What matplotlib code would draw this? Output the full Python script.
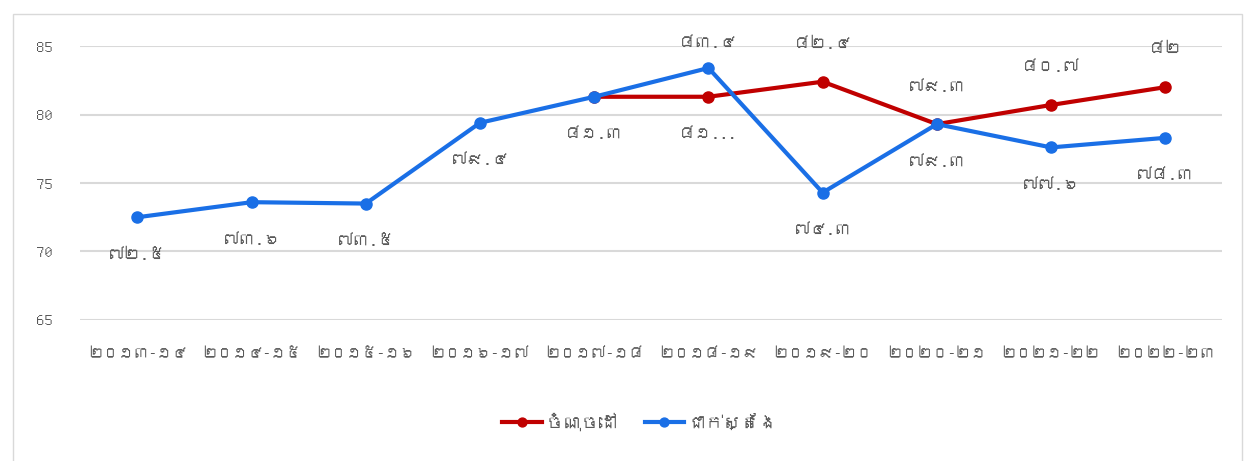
import matplotlib
matplotlib.use("Agg")
import matplotlib.pyplot as plt
from matplotlib import font_manager
from matplotlib.ft2font import FT2Font

# categories and values
years = ["២០១៣-១៤", "២០១៤-១៥", "២០១៥-១៦", "២០១៦-១៧", "២០១៧-១៨",
         "២០១៨-១៩", "២០១៩-២០", "២០២០-២១", "២០២១-២២", "២០២២-២៣"]
actual = [72.5, 73.6, 73.5, 79.4, 81.3, 83.4, 74.3, 79.3, 77.6, 78.3]
actual_labels = ["៧២.៥", "៧៣.៦", "៧៣.៥", "៧៩.៤", "៨១.៣", "៨៣.៤", "៧៤.៣", "៧៩.៣", "៧៧.៦", "៧៨.៣"]
target = [None, None, None, None, 81.3, 81.3, 82.4, 79.3, 80.7, 82.0]
target_labels = [None, None, None, None, None, "៨១...", "៨២.៤", "៧៩.៣", "៨០.៧", "៨២"]
yticks = [65, 70, 75, 80, 85]
legend_names = ["ចំណុចដៅ", "ជាក់ស្តែង"]


# find an installed font that has Khmer glyphs, if any
def find_khmer_font():
    for f in font_manager.fontManager.ttflist:
        try:
            ft = FT2Font(f.fname)
            if ft.get_char_index(0x17E0) and ft.get_char_index(0x1780):
                return f.name
        except Exception:
            continue
    return None


khmer = find_khmer_font()
families = ([khmer] if khmer else []) + ["DejaVu Sans"]
plt.rcParams['font.family'] = families

RED = "#c00000"
BLUE = "#1a6fe6"
GREY = "#595959"

fig = plt.figure(figsize=(12.55, 4.61), dpi=100)
ax = fig.add_axes([0.064, 0.306, 0.910, 0.594])

x = list(range(len(years)))
tx = [i for i, v in zip(x, target) if v is not None]
tv = [v for v in target if v is not None]

ax.plot(tx, tv, color=RED, lw=3, marker="o", ms=8, zorder=3, label=legend_names[0])
ax.plot(x, actual, color=BLUE, lw=3, marker="o", ms=8, zorder=4, label=legend_names[1])

# data labels: actual mostly below, target above
OFF = 27
for i, (v, lab) in enumerate(zip(actual, actual_labels)):
    dy = 18 if i == 5 else -OFF
    ax.annotate(lab, (i, v), xytext=(0, dy), textcoords="offset points",
                ha="center", va="center", fontsize=12, color=GREY)
for i, (v, lab) in enumerate(zip(target, target_labels)):
    if lab is None:
        continue
    dy = -OFF if i == 5 else OFF
    ax.annotate(lab, (i, v), xytext=(0, dy), textcoords="offset points",
                ha="center", va="center", fontsize=12, color=GREY)

ax.set_xlim(-0.5, len(years) - 0.5)
ax.set_ylim(65, 85)
ax.set_yticks(yticks)
ax.set_xticks(x)
ax.set_xticklabels(years)
ax.tick_params(axis="both", length=0, colors=GREY, labelsize=12)
ax.tick_params(axis="x", labelsize=11, pad=20)
ax.tick_params(axis="y", pad=20)
ax.grid(axis="y", color="#d9d9d9", lw=1.5)
ax.set_axisbelow(True)
for s in ax.spines.values():
    s.set_visible(False)

fig.legend(loc="center", bbox_to_anchor=(0.51, 0.085), ncol=2, frameon=False,
           fontsize=13, handlelength=2.2, handletextpad=0.2, columnspacing=1.5,
           labelcolor=GREY, markerscale=0.8)

# light border around the chart area
fig.add_artist(plt.Rectangle((0.01, -0.01), 0.98, 0.98, transform=fig.transFigure,
                             fill=False, edgecolor="#d9d9d9", lw=1))

fig.savefig("out.png", dpi=100)
